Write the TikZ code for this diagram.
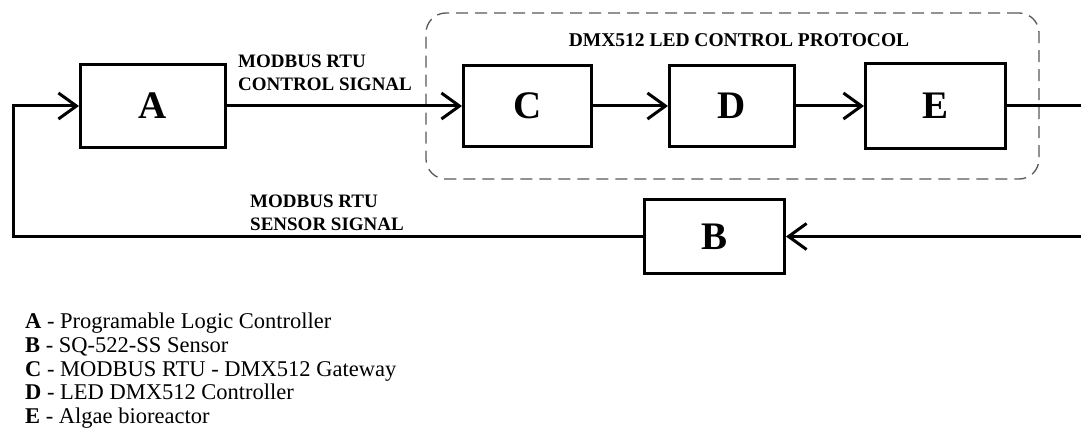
\documentclass[tikz,border=0pt]{standalone}
\usepackage{fontspec}
\setmainfont{Liberation Serif}
\usetikzlibrary{arrows.meta}
\begin{document}
\begin{tikzpicture}[x=1pt,y=-1pt,
  blk/.style={draw, line width=3pt, inner sep=0pt, font=\fontsize{39}{42}\selectfont\bfseries},
  arr/.style={line width=3pt, -{Straight Barb[length=18pt,width=26pt]}},
  conn/.style={line width=3pt},
  lbl/.style={inner sep=0pt, align=left, font=\fontsize{19}{22.5}\selectfont\bfseries},
  groupbox/.style={draw=black!65, line width=1.3pt, dash pattern=on 12pt off 7pt, rounded corners=20pt, inner sep=0pt},
  leg/.style={inner sep=0pt, anchor=base west, font=\fontsize{22.5}{24}\selectfont}]
\clip (0,0) rectangle (1081,441);
\fill[white] (0,0) rectangle (1081,441);
% group
\node[groupbox, minimum width=613pt, minimum height=166pt] (G) at (732.5,96) {};
\node[inner sep=0pt, font=\fontsize{19.5}{22}\selectfont\bfseries] (T) at (739,40) {DMX512 LED CONTROL PROTOCOL};
% blocks
\node[blk, minimum width=145pt, minimum height=83pt] (A) at (153,106) {A};
\node[blk, minimum width=128pt, minimum height=81pt] (C) at (527.5,106) {C};
\node[blk, minimum width=125pt, minimum height=81pt] (D) at (732,106) {D};
\node[blk, minimum width=140pt, minimum height=85pt] (E) at (935.5,106) {E};
\node[blk, minimum width=140pt, minimum height=74pt] (B) at (714.5,236.5) {B};
% labels
\node[lbl, anchor=north west] (L1) at (238,55) {MODBUS RTU\\CONTROL SIGNAL};
\node[lbl, anchor=north west] (L2) at (250,195) {MODBUS RTU\\SENSOR SIGNAL};
% connectors
\coordinate (lc) at (13,170);
\coordinate (rc) at (1095,170);
\draw[arr] (A.east) -- (C.west);
\draw[arr] (C.east) -- (D.west);
\draw[arr] (D.east) -- (E.west);
\draw[arr] (E.east) -| (rc) |- (B.east);
\draw[arr] (B.west) -| (lc) |- (A.west);
% legend
\node[leg] (g1) at (25,328) {\textbf{A} - Programable Logic Controller};
\node[leg] (g2) at (25,352) {\textbf{B} - SQ-522-SS Sensor};
\node[leg] (g3) at (25,376) {\textbf{C} - MODBUS RTU - DMX512 Gateway};
\node[leg] (g4) at (25,399.5) {\textbf{D} - LED DMX512 Controller};
\node[leg] (g5) at (25,423) {\textbf{E} - Algae bioreactor};
\end{tikzpicture}
\end{document}
